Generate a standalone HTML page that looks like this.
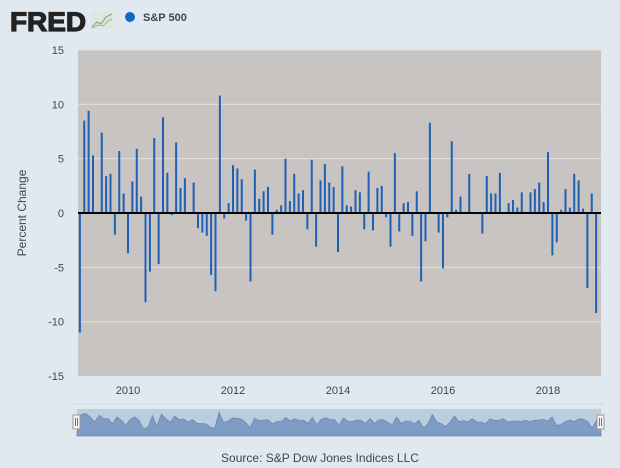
<!DOCTYPE html>
<html><head><meta charset="utf-8"><style>
body{margin:0;background:#e1e9f0;font-family:"Liberation Sans",sans-serif;}
svg{display:block}
</style></head><body>
<svg width="620" height="468" viewBox="0 0 620 468">
<rect width="620" height="468" fill="#e1e9f0"/>
<text x="10" y="31" font-size="27" font-weight="bold" fill="#222" stroke="#222" stroke-width="1.2" textLength="76" lengthAdjust="spacingAndGlyphs">FRED</text>
<g><rect x="91" y="12" width="22" height="17" fill="#dfe5df"/><polyline points="92,27 97,22 101,24 106,17 112,14" fill="none" stroke="#8aa88a" stroke-width="1.2"/><polyline points="92,28 98,25 103,26 108,21 112,19" fill="none" stroke="#9ab89a" stroke-width="1"/></g>
<circle cx="130" cy="17" r="5" fill="#1565c8"/>
<text x="143" y="21" font-size="11" font-weight="bold" fill="#444">S&amp;P 500</text>
<rect x="78" y="50" width="523" height="326" fill="#c8c4c1"/>
<g id="grid"></g><g id="ylab"></g><g id="xlab"></g><g id="bars"></g>
<text transform="translate(26,213) rotate(-90)" text-anchor="middle" font-size="12" fill="#444">Percent Change</text>
<line x1="74" y1="404" x2="604" y2="404" stroke="#cdd6df"/>
<rect x="77" y="409" width="524" height="27" fill="#bccde0"/>
<path id="navarea" fill="#7f9cc4" stroke="#6a88b3" stroke-width="0.8"/>
<g><rect x="73" y="415" width="7" height="14" fill="#f4f4f4" stroke="#999"/><line x1="75.5" y1="418" x2="75.5" y2="426" stroke="#777"/><line x1="77.5" y1="418" x2="77.5" y2="426" stroke="#777"/></g>
<g><rect x="597" y="415" width="7" height="14" fill="#f4f4f4" stroke="#999"/><line x1="599.5" y1="418" x2="599.5" y2="426" stroke="#777"/><line x1="601.5" y1="418" x2="601.5" y2="426" stroke="#777"/></g>
<text x="320" y="462" text-anchor="middle" font-size="12" fill="#444">Source: S&amp;P Dow Jones Indices LLC</text>
</svg>
<script>
const startYear=2009, startMonth=1; // Feb 2009 (0-based month)
const values=[-11,8.5,9.4,5.3,0.0,7.4,3.4,3.6,-2.0,5.7,1.8,
-3.7,2.9,5.9,1.5,-8.2,-5.4,6.9,-4.7,8.8,3.7,-0.2,6.5,
2.3,3.2,-0.1,2.8,-1.4,-1.8,-2.1,-5.7,-7.2,10.8,-0.5,0.9,
4.4,4.1,3.1,-0.7,-6.3,4.0,1.3,2.0,2.4,-2.0,0.3,0.7,
5.0,1.1,3.6,1.8,2.1,-1.5,4.9,-3.1,3.0,4.5,2.8,2.4,
-3.6,4.3,0.7,0.6,2.1,1.9,-1.5,3.8,-1.6,2.3,2.5,-0.4,
-3.1,5.5,-1.7,0.9,1.0,-2.1,2.0,-6.3,-2.6,8.3,0.1,-1.8,
-5.1,-0.4,6.6,0.3,1.5,0.1,3.6,-0.1,-0.1,-1.9,3.4,1.8,
1.8,3.7,-0.1,0.9,1.2,0.5,1.9,0.1,1.9,2.2,2.8,1.0,
5.6,-3.9,-2.7,0.3,2.2,0.5,3.6,3.0,0.4,-6.9,1.8,-9.2];
const yTicks=[-15,-10,-5,0,5,10,15];
const xTicks=[2010,2012,2014,2016,2018];
const NS="http://www.w3.org/2000/svg";
function y(v){return 213-v*10.87;}
function x(yr,m){return 128+((yr-2010)*12+m)*4.375;}
function mk(tag,attrs,parent){const e=document.createElementNS(NS,tag);for(const k in attrs)e.setAttribute(k,attrs[k]);document.getElementById(parent).appendChild(e);return e;}
yTicks.forEach(t=>{
 if(t!==0&&t!==-15){const g=mk('line',{x1:78,x2:601,y1:y(t),y2:y(t),stroke:'#e4e2e0','stroke-width':1},'grid');
 
 }
 const l=mk('text',{x:64,y:y(t)+4,'text-anchor':'end','font-size':11,fill:'#444'},'ylab');l.textContent=t;
 
 
});
xTicks.forEach(t=>{
 const l=mk('text',{x:x(t,0),y:394,'text-anchor':'middle','font-size':11,fill:'#444'},'xlab');l.textContent=t;
 
 
});
values.forEach((v,i)=>{
 const mi=startMonth+i, yr=startYear+Math.floor(mi/12), m=mi%12;
 const cx=x(yr,m);
 const b=mk('rect',{x:cx-1,y:Math.min(y(v),y(0)),width:2,height:Math.abs(y(v)-y(0)),fill:'#1f5fb5'},'bars');
 
 
});
const z=mk('line',{x1:78,x2:601,y1:y(0),y2:y(0),stroke:'#000','stroke-width':2},'bars');


let d='M77,436';
values.forEach((v,i)=>{const nx=77+i*(524/(values.length-1));const ny=422-v*0.9;d+=' L'+nx.toFixed(1)+','+ny.toFixed(1);});
d+=' L601,436 Z';
document.getElementById('navarea').setAttribute('d',d);
</script>
</body></html>
